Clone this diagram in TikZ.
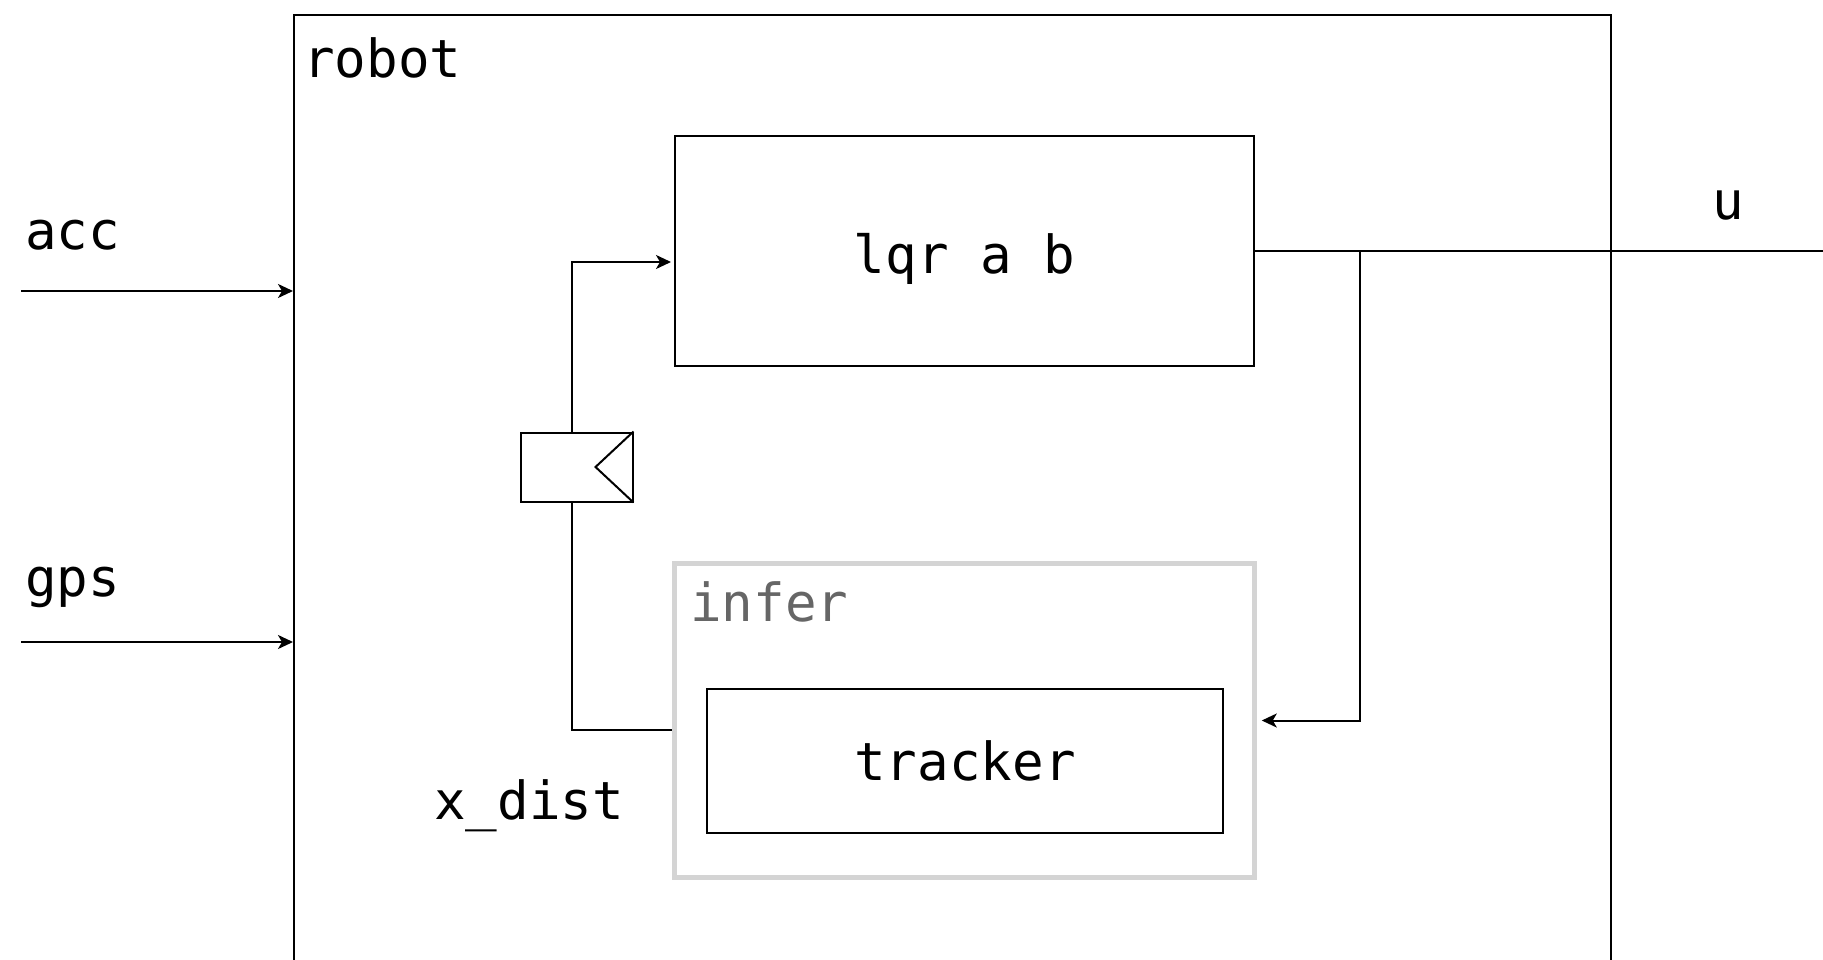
\documentclass[tikz,border=0pt]{standalone}
\usepackage{fontspec}
\setmainfont{DejaVu Sans Mono}
\usetikzlibrary{arrows.meta}
\definecolor{infergray}{HTML}{D4D4D4}
\definecolor{infertext}{HTML}{666666}
\begin{document}
\begin{tikzpicture}[x=1pt,y=-1pt,
  txt/.style={font=\fontsize{52.5}{60}\selectfont, inner sep=0pt},
  blk/.style={draw=black, line width=2pt, inner sep=0pt},
  wire/.style={line width=2pt},
  arr/.style={wire, -{Stealth[length=15pt,width=14pt,inset=4pt]}}]
\useasboundingbox (0,0) rectangle (1823,960);
\clip (0,0) rectangle (1823,960);
% outer robot box (bottom edge off the picture)
\node[blk, minimum width=1317pt, minimum height=1000pt, anchor=north west] (robot) at (293,14) {};
\node[txt, anchor=base west] (robotlbl) at (303,78) {robot};
% inputs
\node[txt, anchor=base west] (acclbl) at (25,249) {acc};
\node[txt, anchor=base west] (gpslbl) at (25,596) {gps};
\coordinate (accin) at (21,291);
\coordinate (gpsin) at (21,642);
\draw[arr] (accin) -- (accin -| robot.west);
\draw[arr] (gpsin) -- (gpsin -| robot.west);
% lqr
\node[blk, minimum width=579pt, minimum height=229pt] (lqr) at (964.5,251) {};
\node[txt, anchor=base] (lqrtxt) at (lqr.center |- 0,273) {lqr a b};
% infer group
\node[draw=infergray, line width=4.5pt, inner sep=0pt, minimum width=580pt, minimum height=314pt] (infer) at (964.5,720.5) {};
\node[txt, text=infertext, anchor=base west] (inferlbl) at (690,621) {infer};
\node[blk, minimum width=516pt, minimum height=144pt] (tracker) at (965,761) {};
\node[txt, anchor=base] (trackertxt) at (tracker.center |- 0,780) {tracker};
% delay block
\node[blk, minimum width=112pt, minimum height=69pt] (delay) at (576.5,467) {};
\draw[wire, line join=miter] (delay.north east) -- ([xshift=-38pt]delay.east) -- (delay.south east);
% feedback wiring
\draw[arr] ([xshift=-4.5pt]delay.north) |- ([xshift=-3pt,yshift=-11pt]lqr.west);
\draw[wire] ([xshift=-4.5pt]delay.south) |- ([yshift=-9.5pt]infer.west);
\node[txt, anchor=base west] (xdist) at (434,819) {x\_dist};
% output
\coordinate (uout) at (1823,251);
\coordinate (junc) at (1360,251);
\draw[wire] (lqr.east) -- (uout);
\draw[arr, shorten >=5pt] (junc) |- (infer.east);
\node[txt, anchor=base] (ulbl) at (1728,220) {u};
\end{tikzpicture}
\end{document}
